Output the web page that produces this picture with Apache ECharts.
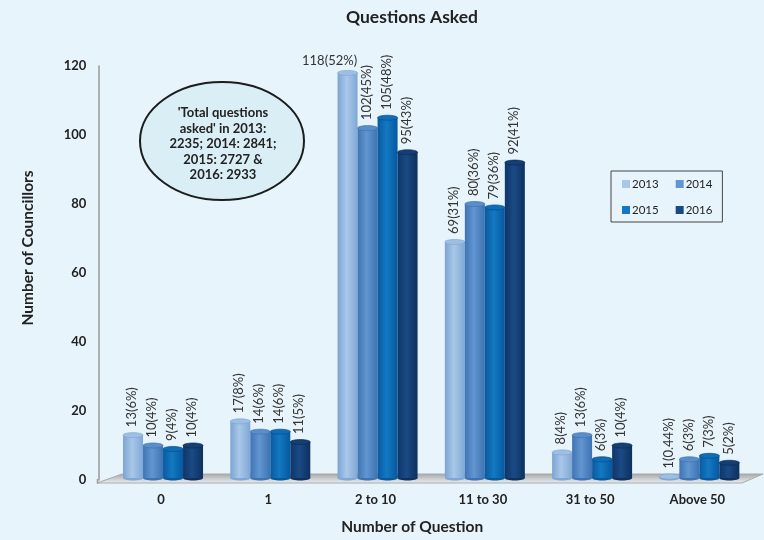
<!DOCTYPE html>
<html>
<head>
<meta charset="utf-8">
<script src="https://cdn.jsdelivr.net/npm/echarts@6/dist/echarts.min.js"></script>
<style>
  html, body { margin: 0; padding: 0; background: #e8f4fb; }
  #chart { width: 764px; height: 540px; }
</style>
</head>
<body>
<div id="chart"></div>
<script>
const categories = ['0', '1', '2 to 10', '11 to 30', '31 to 50', 'Above 50'];
const years = ['2013', '2014', '2015', '2016'];
const values2013 = [13, 17, 118, 69, 8, 1];
const values2014 = [10, 14, 102, 80, 13, 6];
const values2015 = [9, 14, 105, 79, 6, 7];
const values2016 = [10, 11, 95, 92, 10, 5];
const labels2013 = ['13(6%)', '17(8%)', '118(52%)', '69(31%)', '8(4%)', '1(0.44%)'];
const labels2014 = ['10(4%)', '14(6%)', '102(45%)', '80(36%)', '13(6%)', '6(3%)'];
const labels2015 = ['9(4%)', '14(6%)', '105(48%)', '79(36%)', '6(3%)', '7(3%)'];
const labels2016 = ['10(4%)', '11(5%)', '95(43%)', '92(41%)', '10(4%)', '5(2%)'];
const noteLines = "'Total questions\nasked' in 2013:\n2235; 2014: 2841;\n2015: 2727 &\n2016: 2933";

const fontFamily = 'Lato, "Open Sans", sans-serif';
const BAR_W = 20;
const CAP_RY = 2.5;
const BASE_LIFT = 2; // bars stand slightly back on the floor

// left edge, highlight, right edge, cap, cap rim
const palette = [
  ['#7ba3d3', '#a9c8e8', '#7fa7d6', '#9dbfe3', '#7fa6d4'],
  ['#3f74b3', '#6296d1', '#3d73b2', '#5a8ecb', '#3f74b3'],
  ['#0a5a9e', '#1279c2', '#06589f', '#0f6db5', '#064f90'],
  ['#0f3669', '#1a4a85', '#0d305e', '#143f75', '#0c2b55']
];
const seriesValues = [values2013, values2014, values2015, values2016];
const seriesLabels = [labels2013, labels2014, labels2015, labels2016];

function cylinder(i) {
  const c = palette[i];
  const fill = new echarts.graphic.LinearGradient(0, 0, 1, 0, [
    { offset: 0, color: c[0] },
    { offset: 0.45, color: c[1] },
    { offset: 1, color: c[2] }
  ]);
  return function (params, api) {
    const idx = api.value(0);
    const val = api.value(1);
    const top = api.coord([idx, val]);
    const base = api.coord([idx, 0]);
    const baseY = base[1] - BASE_LIFT;
    const left = top[0] + (i - 2) * BAR_W;
    const cx = left + BAR_W / 2;
    const text = seriesLabels[i][params.dataIndex];
    // the tallest bar has its label laid flat, off to the left
    const flat = val === 118;
    return {
      type: 'group',
      children: [
        { type: 'ellipse', shape: { cx, cy: baseY, rx: BAR_W / 2, ry: CAP_RY }, style: { fill: c[2] } },
        { type: 'rect', shape: { x: left, y: top[1], width: BAR_W, height: baseY - top[1] }, style: { fill } },
        { type: 'ellipse', shape: { cx, cy: top[1], rx: BAR_W / 2, ry: CAP_RY }, style: { fill: c[3], stroke: c[4], lineWidth: 0.7 } },
        flat
          ? { type: 'text', x: cx - 18, y: top[1] - 12,
              style: { text, align: 'center', verticalAlign: 'middle', fontSize: 13, fontFamily, fill: '#333' } }
          : { type: 'text', x: cx - 1, y: top[1] - 8, rotation: Math.PI / 2,
              style: { text, align: 'left', verticalAlign: 'middle', fontSize: 13, fontFamily, fill: '#333' } }
      ]
    };
  };
}

const series = years.map((year, i) => ({
  name: year,
  type: 'custom',
  z: 2 + i,
  clip: false,
  encode: { x: 0, y: 1 },
  itemStyle: { color: palette[i][1] },
  data: seriesValues[i].map((v, idx) => [idx, v]),
  renderItem: cylinder(i)
}));

const chart = echarts.init(document.getElementById('chart'));
chart.setOption({
  backgroundColor: '#e8f4fb',
  animation: false,
  title: {
    text: 'Questions Asked',
    left: 407,
    top: 3,
    textAlign: 'center',
    textStyle: { fontSize: 17.5, fontWeight: 'bold', color: '#222', fontFamily }
  },
  legend: {
    data: years,
    orient: 'horizontal',
    left: 611,
    top: 171,
    width: 98,
    icon: 'rect',
    itemWidth: 8,
    itemHeight: 8,
    itemGap: 14,
    padding: [7, 7, 6, 11],
    borderColor: '#444',
    borderWidth: 1,
    textStyle: { fontSize: 11.5, height: 9, lineHeight: 9, color: '#222', fontFamily, padding: [0, 3, 0, -3] }
  },
  grid: { left: 109.4, right: 11, top: 66, bottom: 59 },
  xAxis: {
    type: 'category',
    data: categories,
    axisLine: { show: false },
    axisTick: { show: false },
    axisLabel: { color: '#222', fontSize: 13, fontWeight: 'bold', fontFamily, margin: 13, padding: [0, 4, 0, 0] },
    name: 'Number of Question',
    nameLocation: 'middle',
    nameGap: 39,
    nameTextStyle: { color: '#222', fontSize: 15.5, fontWeight: 'bold', fontFamily, padding: [0, 38, 0, 0] }
  },
  yAxis: {
    type: 'value',
    min: 0,
    max: 120,
    interval: 20,
    offset: 11,
    axisLine: { show: true, lineStyle: { color: '#9a9a9a', width: 1.5 } },
    axisTick: { show: false },
    splitLine: { show: false },
    axisLabel: { color: '#222', fontSize: 13, fontWeight: 'bold', fontFamily, margin: 12, padding: [4, 0, 0, 0] },
    name: 'Number of Councillors',
    nameLocation: 'middle',
    nameGap: 62,
    nameTextStyle: { color: '#222', fontSize: 15.5, fontWeight: 'bold', fontFamily, padding: [0, 0, 0, 50] }
  },
  graphic: [
    // floor of the plot
    { type: 'polygon', z: 0, shape: { points: [[97, 483], [742, 483], [763, 474], [122, 474]] },
      style: {
        fill: new echarts.graphic.LinearGradient(0, 0, 0, 1, [
          { offset: 0, color: '#a2a6a8' },
          { offset: 1, color: '#eef1f2' }
        ]),
        stroke: '#a8a8a8', lineWidth: 1
      } },
    { type: 'line', z: 1, shape: { x1: 97.5, y1: 479, x2: 97.5, y2: 483.5 }, style: { stroke: '#9a9a9a', lineWidth: 1.5 } },
    // note ellipse
    { type: 'ellipse', z: 5, shape: { cx: 222, cy: 141, rx: 82, ry: 59 },
      style: { fill: '#daeef6', stroke: '#1c1c1c', lineWidth: 2 } },
    { type: 'text', z: 6, x: 223, y: 144, style: { text: noteLines, align: 'center', verticalAlign: 'middle',
        font: 'bold 13px ' + fontFamily, lineHeight: 15.5, fill: '#222' } }
  ],
  series
});
</script>
</body>
</html>
